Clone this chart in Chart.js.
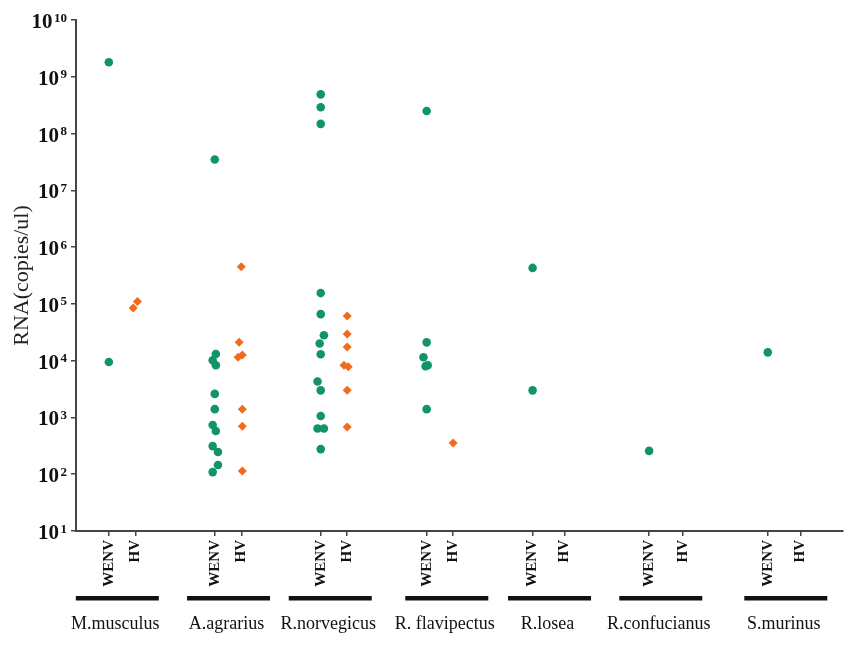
<!DOCTYPE html>
<html lang="en">
<head>
    <meta charset="UTF-8">
    <title>RNA copies by host</title>
    <script src="https://cdn.jsdelivr.net/npm/chart.js"></script>
    <style>
        html, body { margin: 0; padding: 0; background: #fff; }
        #wrap { width: 851px; height: 646px; }
    </style>
</head>
<body>
    <div id="wrap"><canvas id="rnaChart" width="851" height="646"></canvas></div>
    <script>
        // Hosts and the two assays shown under each of them
        const groups = ['M.musculus', 'A.agrarius', 'R.norvegicus', 'R. flavipectus', 'R.losea', 'R.confucianus', 'S.murinus'];
        const groupCenter = [1.08, 2.13, 3.09, 4.19, 5.16, 6.21, 7.39];
        const tickLabels = ['WENV', 'HV', 'WENV', 'HV', 'WENV', 'HV', 'WENV', 'HV', 'WENV', 'HV', 'WENV', 'HV', 'WENV', 'HV'];
        const tickPos = [1, 1.25, 2, 2.25, 3, 3.25, 4, 4.25, 5, 5.3, 6.1, 6.42, 7.22, 7.53];
        const yPowers = [1, 2, 3, 4, 5, 6, 7, 8, 9, 10];

        // RNA copies/ul per sample, one list per host
        const wenvValues = [
            [1.8e9, 9.5e3],
            [3.5e7, 1.31e4, 1.02e4, 8.3e3, 2.6e3, 1.4e3, 735, 576, 313, 246, 145, 109],
            [4.9e8, 2.9e8, 1.48e8, 1.55e5, 6.6e4, 2.8e4, 2.0e4, 1.3e4, 4.3e3, 3.0e3, 1.06e3, 640, 640, 277],
            [2.5e8, 2.1e4, 1.15e4, 8.3e3, 8.0e3, 1.4e3],
            [4.3e5, 3.0e3],
            [258],
            [1.4e4]
        ];
        const wenvJitter = [
            [0, 0],
            [0, .01, -.02, .01, 0, 0, -.02, .01, -.02, .03, .03, -.02],
            [0, 0, 0, 0, 0, .03, -.01, 0, -.03, 0, 0, -.03, .03, 0],
            [0, 0, -.03, .01, -.01, 0],
            [0, 0],
            [0],
            [0]
        ];
        const hvValues = [
            [8.5e4, 1.1e5],
            [4.5e5, 2.1e4, 1.15e4, 1.26e4, 1.4e3, 700, 114],
            [6.1e4, 2.96e4, 1.74e4, 8.3e3, 7.8e3, 3.0e3, 680],
            [356],
            [],
            [],
            []
        ];
        const hvJitter = [
            [-.02, .02],
            [0, -.02, -.03, .01, .01, .01, .01],
            [0, 0, 0, -.03, .01, 0, 0],
            [0],
            [],
            [],
            []
        ];

        const serif = '"Liberation Serif", "Times New Roman", serif';

        const toPoints = (values, jitter, offset) => values.flatMap((list, g) =>
            list.map((v, k) => ({ x: tickPos[2 * g + offset] + jitter[g][k], y: v })));

        // y tick labels as 10 with a raised exponent, and host bars/names under the axis
        const decorations = {
            id: 'decorations',
            afterDraw(chart) {
                const { ctx, scales: { x, y } } = chart;
                ctx.save();
                ctx.fillStyle = '#111';
                ctx.textBaseline = 'alphabetic';
                ctx.textAlign = 'right';
                const right = y.right - 9;
                yPowers.forEach(p => {
                    const py = y.getPixelForValue(Math.pow(10, p));
                    const exp = String(p);
                    ctx.font = 'bold 13px ' + serif;
                    ctx.fillText(exp, right, py + 1.5);
                    const ew = ctx.measureText(exp).width;
                    ctx.font = 'bold 21px ' + serif;
                    ctx.fillText('10', right - ew - 1.5, py + 8);
                });
                ctx.textAlign = 'center';
                ctx.font = '18px ' + serif;
                groups.forEach((g, i) => {
                    const cx = x.getPixelForValue(groupCenter[i]);
                    ctx.fillRect(cx - 41.5, 596, 83, 4.5);
                    ctx.fillText(g, cx - 2, 629);
                });
                ctx.restore();
            }
        };

        new Chart(document.getElementById('rnaChart'), {
            type: 'scatter',
            data: {
                datasets: [
                    {
                        label: 'WENV',
                        data: toPoints(wenvValues, wenvJitter, 0),
                        pointStyle: 'circle',
                        pointRadius: 4.3,
                        backgroundColor: '#12946a',
                        borderColor: '#12946a',
                        borderWidth: 0
                    },
                    {
                        label: 'HV',
                        data: toPoints(hvValues, hvJitter, 1),
                        pointStyle: 'rectRot',
                        pointRadius: 4.5,
                        backgroundColor: '#f26a1c',
                        borderColor: '#f26a1c',
                        borderWidth: 0
                    }
                ]
            },
            options: {
                responsive: false,
                animation: false,
                layout: { padding: { top: 20, right: 8, left: 0, bottom: 0 } },
                plugins: { legend: { display: false }, tooltip: { enabled: false } },
                scales: {
                    x: {
                        type: 'linear',
                        min: 0.69,
                        max: 7.93,
                        afterBuildTicks: s => { s.ticks = tickPos.map(v => ({ value: v })); },
                        afterFit: s => { s.height = 115; },
                        ticks: {
                            autoSkip: false,
                            minRotation: 90,
                            maxRotation: 90,
                            padding: 4,
                            color: '#111',
                            font: { family: serif, size: 15, weight: 'bold' },
                            callback: (v, i) => tickLabels[i]
                        },
                        grid: { drawOnChartArea: false, tickLength: 5, color: '#444', lineWidth: 1.5 },
                        border: { color: '#444', width: 2 }
                    },
                    y: {
                        type: 'logarithmic',
                        min: 10,
                        max: 1e10,
                        afterBuildTicks: s => { s.ticks = yPowers.map(p => ({ value: Math.pow(10, p) })); },
                        afterFit: s => { s.width = 76; },
                        ticks: { callback: () => '' },
                        grid: { drawOnChartArea: false, tickLength: 5, color: '#444', lineWidth: 1.5 },
                        border: { color: '#444', width: 2 },
                        title: {
                            display: true,
                            text: 'RNA(copies/ul)',
                            color: '#222',
                            font: { family: serif, size: 22 },
                            padding: { top: 9, bottom: 0 }
                        }
                    }
                }
            },
            plugins: [decorations]
        });
    </script>
</body>
</html>
